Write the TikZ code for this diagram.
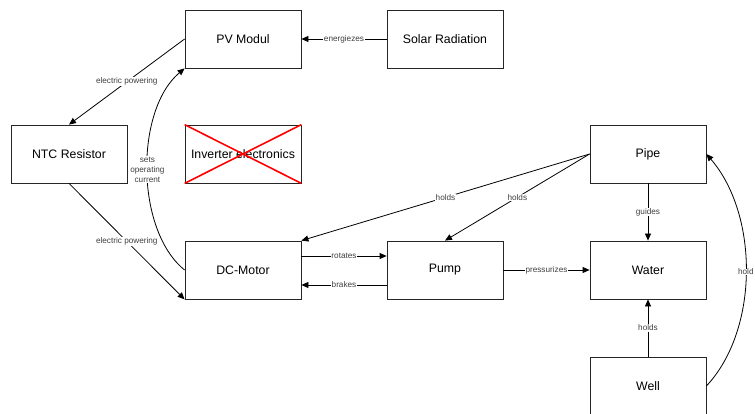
\documentclass[tikz,border=0pt]{standalone}
\usepackage{fontspec}
\setmainfont{Liberation Sans}
\usetikzlibrary{arrows.meta}
\begin{document}
\begin{tikzpicture}[x=1pt,y=-1pt,
  box/.style={draw=black!85,line width=0.8pt,minimum width=116pt,minimum height=58pt,inner sep=0pt,font=\fontsize{12.3}{14}\selectfont},
  conn/.style={line width=0.8pt,-{Triangle[length=7pt,width=6pt]}},
  lbl/.style={fill=white,inner sep=0.6pt,font=\fontsize{8.2}{10.3}\selectfont,text=black!75},
  cross/.style={draw=red,line width=1.6pt}]
\useasboundingbox (0,0) rectangle (755,414);
\node[box] (pv) at (243,39) {PV Modul};
\node[box] (sol) at (445,39) {Solar Radiation};
\node[box] (ntc) at (69,154) {NTC Resistor};
\node[box] (inv) at (243,154) {Inverter electronics};
\node[box] (pipe) at (648,154) {Pipe};
\node[box] (dcm) at (243,270) {DC-Motor};
\node[box] (pump) at (445,270) {Pump};
\node[box] (water) at (648,270) {Water};
\node[box] (well) at (648,386) {Well};
\draw[cross] (inv.north west) -- (inv.south east);
\draw[cross] (inv.south west) -- (inv.north east);
\draw[conn] (sol.west) -- node[lbl] {energiezes} (pv.west -| pv.east);
\draw[conn] (pv.west) -- node[lbl] {electric powering} (ntc.north);
\draw[conn] (ntc.south) -- node[lbl] {electric powering} (dcm.south west);
\draw[conn] (dcm.west) .. controls (135,230) and (135,110) .. node[lbl,align=center,pos=0.5] {sets\\operating\\current} (pv.south west);
\draw[conn] (pipe.west) -- node[lbl] {holds} (dcm.north east);
\draw[conn] (pipe.west) -- node[lbl] {holds} (pump.north);
\draw[conn] (pipe.south) -- node[lbl] {guides} (water.north);
\draw[conn] ([yshift=14pt]dcm.east) -- node[lbl] {rotates} ([yshift=14pt]pump.west);
\draw[conn] ([yshift=-15pt]pump.west) -- node[lbl] {brakes} ([yshift=-15pt]dcm.east);
\draw[conn] (pump.east) -- node[lbl] {pressurizes} (water.west);
\draw[conn] (well.north) -- node[lbl] {holds} (water.south);
\draw[conn] (well.east) .. controls (759,330) and (759,215) .. node[lbl,inner sep=0.3pt] {hold} (pipe.east);
\end{tikzpicture}
\end{document}
